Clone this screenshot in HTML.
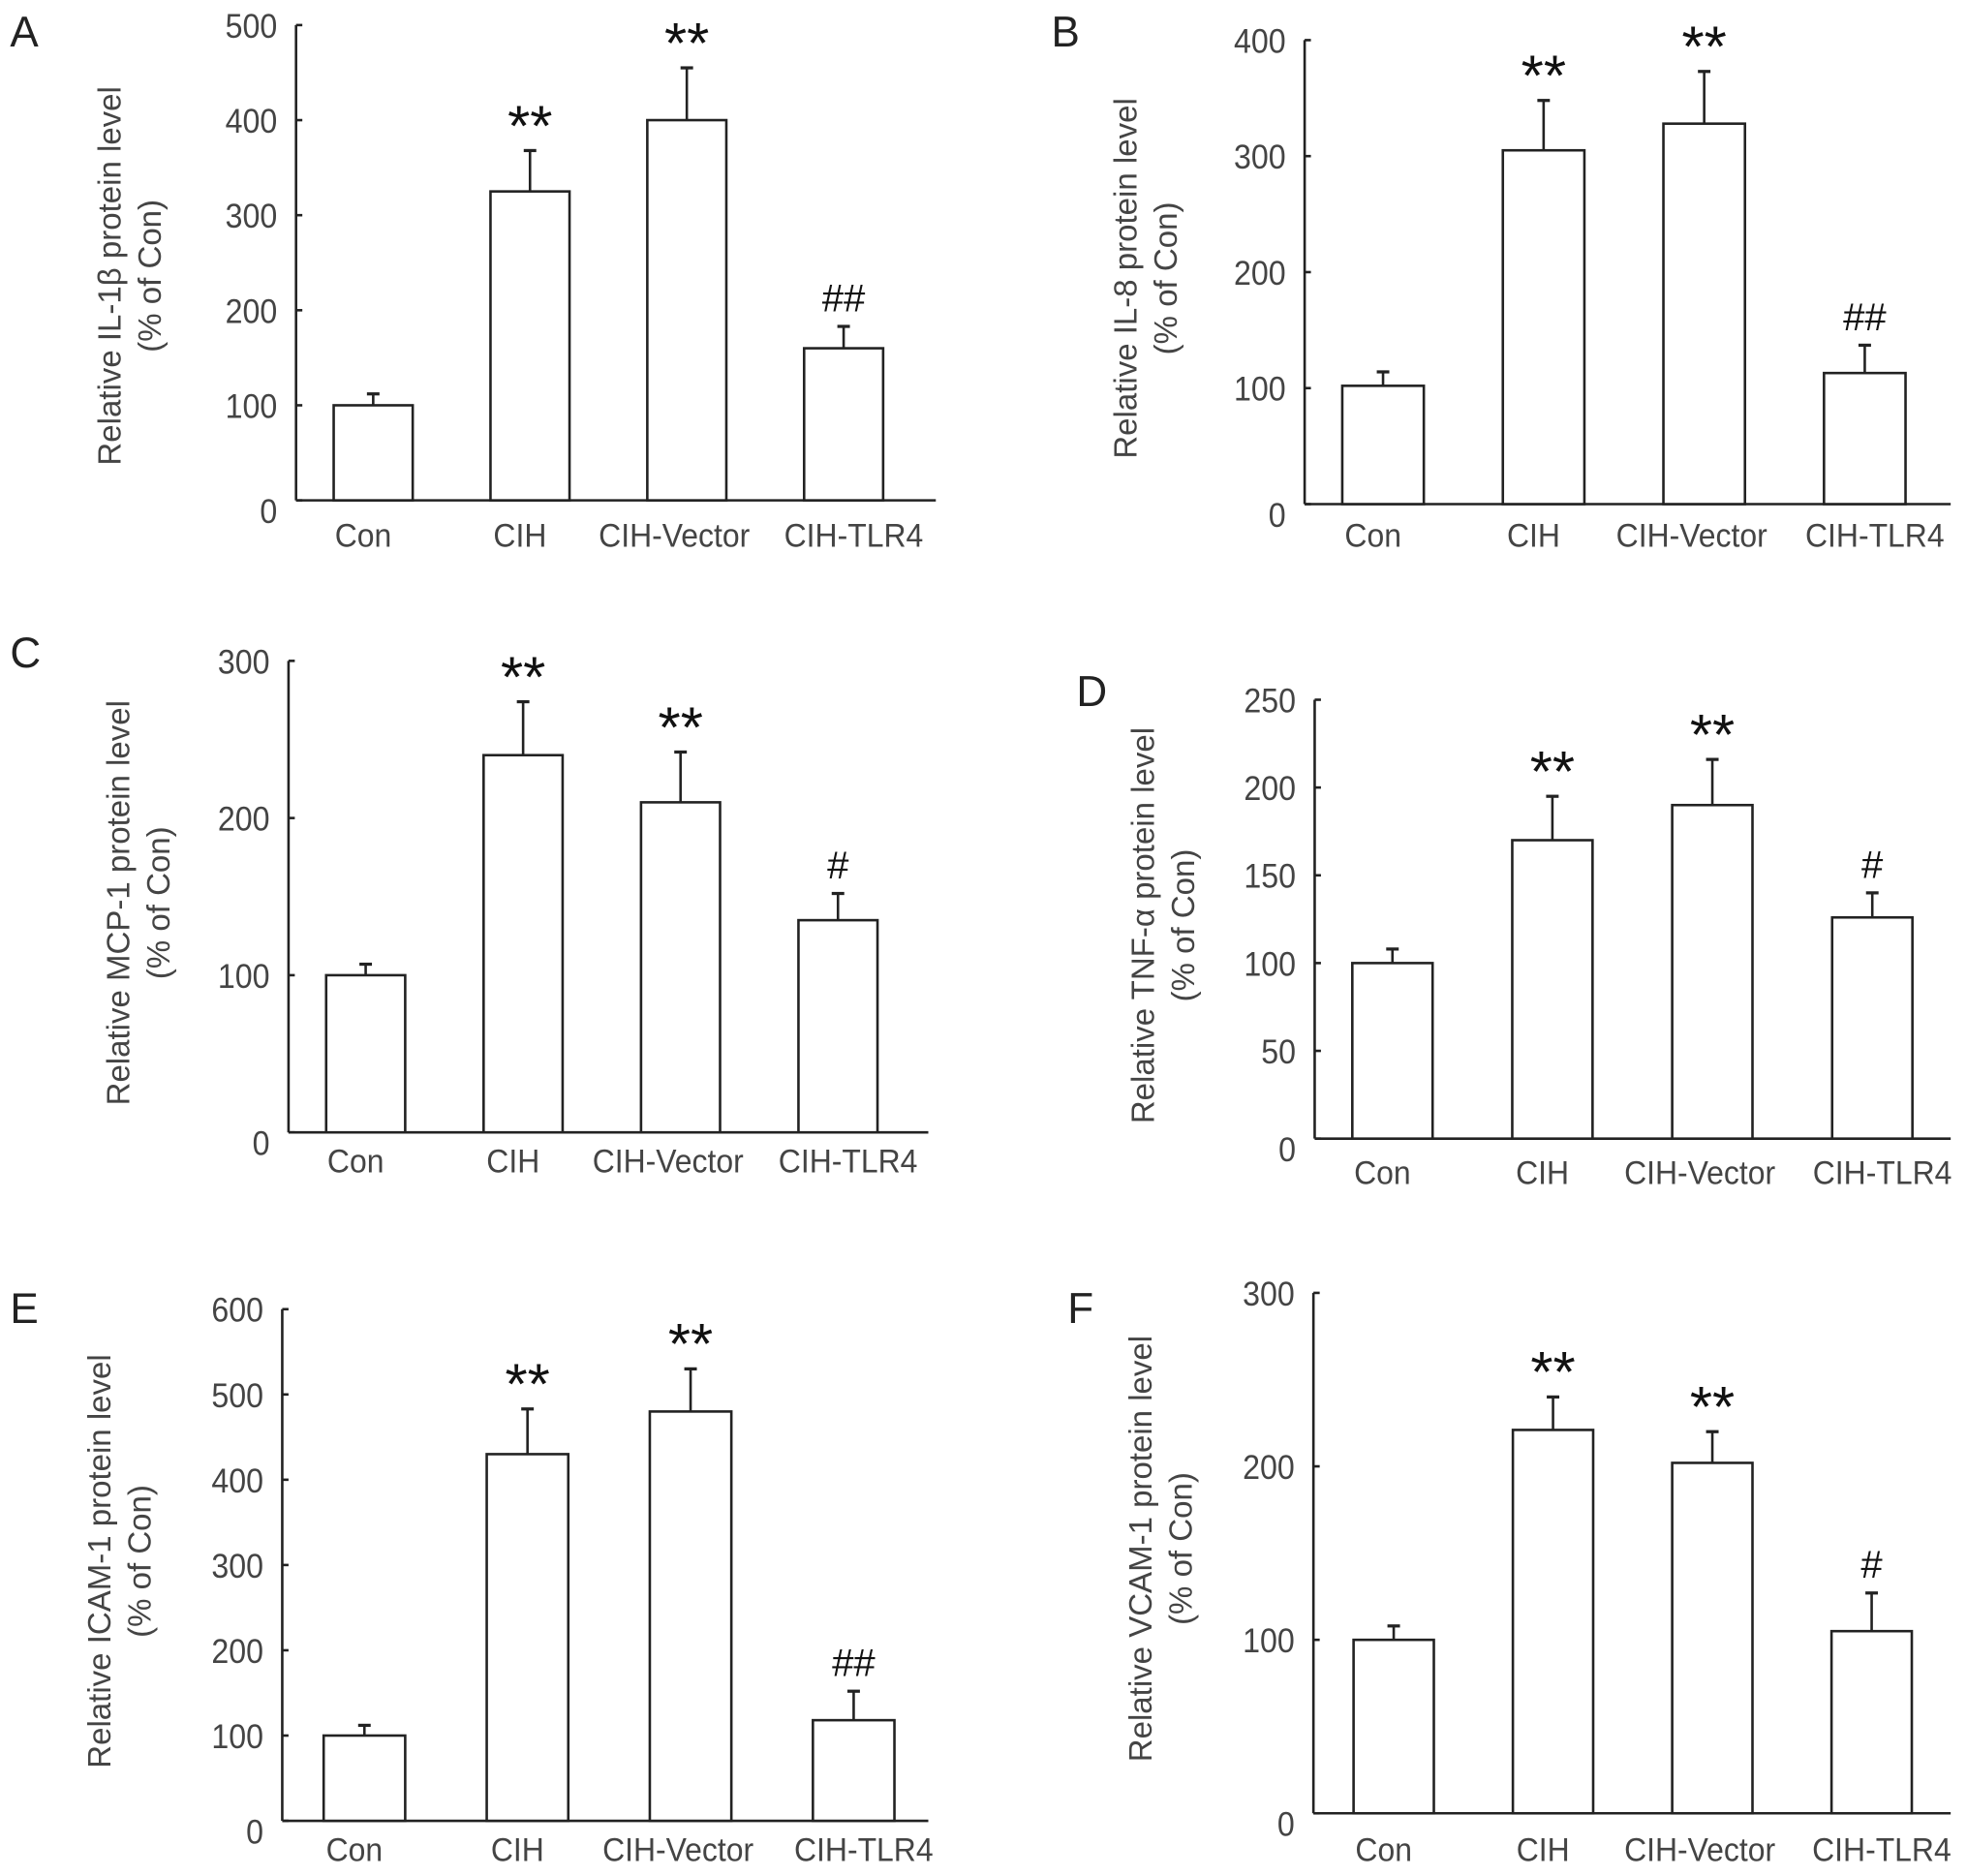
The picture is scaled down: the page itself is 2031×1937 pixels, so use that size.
<!DOCTYPE html>
<html><head><meta charset="utf-8"><style>
html,body{margin:0;padding:0;background:#fff}
svg{display:block}
text{font-family:"Liberation Sans",sans-serif}
</style></head><body>
<svg id="fig" width="2031" height="1937" viewBox="0 0 1568 1496" preserveAspectRatio="none" xmlns="http://www.w3.org/2000/svg"></svg>
<script>
const categories = ["Con","CIH","CIH-Vector","CIH-TLR4"];
const valuesA = [100,325,400,160], errA = [112,368,455,183], marksA = ["","**","**","##"], ticksA = [0,100,200,300,400,500];
const valuesB = [102,305,328,113], errB = [114,348,373,137], marksB = ["","**","**","##"], ticksB = [0,100,200,300,400];
const valuesC = [100,240,210,135], errC = [107,274,242,152], marksC = ["","**","**","#"], ticksC = [0,100,200,300];
const valuesD = [100,170,190,126], errD = [108,195,216,140], marksD = ["","**","**","#"], ticksD = [0,50,100,150,200,250];
const valuesE = [100,430,480,118], errE = [112,483,530,152], marksE = ["","**","**","##"], ticksE = [0,100,200,300,400,500,600];
const valuesF = [100,221,202,105], errF = [108,240,220,127], marksF = ["","**","**","#"], ticksF = [0,100,200,300];

const labelShift = [-8,-8,-10,8];

const panels = [
 {id:"a",letter:"A",lx:8,ly:37,ax:236,top:20,zero:399,xend:746,b0:266,step:125,bw:63,title:"Relative IL-1β protein level",tx:96,ty:220,catY:436,vals:valuesA,errs:errA,marks:marksA,ticks:ticksA},
 {id:"b",letter:"B",lx:838,ly:37,ax:1040,top:32,zero:402,xend:1555,b0:1070,step:128,bw:65,title:"Relative IL-8 protein level",tx:906,ty:222,catY:436,vals:valuesB,errs:errB,marks:marksB,ticks:ticksB},
 {id:"c",letter:"C",lx:8,ly:532,ax:230,top:527,zero:903,xend:740,b0:260,step:125.5,bw:63,title:"Relative MCP-1 protein level",tx:103,ty:720,catY:935,vals:valuesC,errs:errC,marks:marksC,ticks:ticksC},
 {id:"d",letter:"D",lx:858,ly:563,ax:1048,top:558,zero:908,xend:1555,b0:1078,step:127.5,bw:64,title:"Relative TNF-α protein level",tx:920,ty:738,catY:944,vals:valuesD,errs:errD,marks:marksD,ticks:ticksD},
 {id:"e",letter:"E",lx:8,ly:1055,ax:225,top:1044,zero:1452,xend:740,b0:258,step:130,bw:65,title:"Relative ICAM-1 protein level",tx:88,ty:1245,catY:1484,vals:valuesE,errs:errE,marks:marksE,ticks:ticksE},
 {id:"f",letter:"F",lx:851,ly:1055,ax:1047,top:1031,zero:1446,xend:1555,b0:1079,step:127,bw:64,title:"Relative VCAM-1 protein level",tx:918,ty:1235,catY:1484,vals:valuesF,errs:errF,marks:marksF,ticks:ticksF}
];
const NS="http://www.w3.org/2000/svg";
const svg=document.getElementById("fig");
function mk(tag,attrs,parent,txt){const e=document.createElementNS(NS,tag);for(const k in attrs)e.setAttribute(k,attrs[k]);if(txt!==undefined)e.textContent=txt;parent.appendChild(e);return e;}
panels.forEach(p=>{
  const g=mk("g",{},svg);
  
  
  const maxV=p.ticks[p.ticks.length-1];
  const y=v=>p.zero-(v/maxV)*(p.zero-p.top);
  const L=mk("text",{x:p.lx,y:p.ly,"font-size":34,fill:"#222"},g,p.letter);
  
  
  const ya=mk("line",{x1:p.ax,y1:p.top,x2:p.ax,y2:p.zero,stroke:"#222","stroke-width":2},g);
  
  
  const xa=mk("line",{x1:p.ax,y1:p.zero,x2:p.xend,y2:p.zero,stroke:"#222","stroke-width":2},g);
  
  
  p.ticks.forEach(t=>{
    const yy=y(t);
    const tk=mk("line",{x1:p.ax,y1:yy,x2:p.ax+5,y2:yy,stroke:"#222","stroke-width":2},g);
    
    
    const tl=mk("text",{transform:`translate(${p.ax-15},${yy+(t===0?18:10)}) scale(0.92,1)`,"font-size":27,fill:"#444","text-anchor":"end"},g,String(t));
    
    
  });
  const ti=mk("text",{transform:`translate(${p.tx},${p.ty}) rotate(-90)`,"font-size":25.5,fill:"#444","text-anchor":"middle"},g);
  
  
  mk("tspan",{x:0,y:0},ti,p.title);
  mk("tspan",{x:0,y:32},ti,"(% of Con)");
  categories.forEach((c,i)=>{
    const x0=p.b0+i*p.step, cx=x0+p.bw/2;
    const v=p.vals[i], e=p.errs[i];
    const r=mk("rect",{x:x0,y:y(v),width:p.bw,height:p.zero-y(v),fill:"#fff",stroke:"#222","stroke-width":2},g);
    
    
    const el=mk("line",{x1:cx,y1:y(v),x2:cx,y2:y(e),stroke:"#222","stroke-width":2},g);
    
    
    const ec=mk("line",{x1:cx-5,y1:y(e),x2:cx+5,y2:y(e),stroke:"#222","stroke-width":2.5},g);
    
    
    if(p.marks[i]){
      const m=p.marks[i];
      const st=mk("text",{x:cx,y:y(e)-(m[0]==="*"?4:12),"font-size":m[0]==="*"?46:31,"font-weight":"normal",fill:"#111","text-anchor":"middle"},g,m);
      
      
    }
    const cl=mk("text",{transform:`translate(${cx+labelShift[i]},${p.catY}) scale(0.93,1)`,"font-size":26.5,fill:"#444","text-anchor":"middle"},g,c);
    
    
  });
});
</script>
</body></html>
